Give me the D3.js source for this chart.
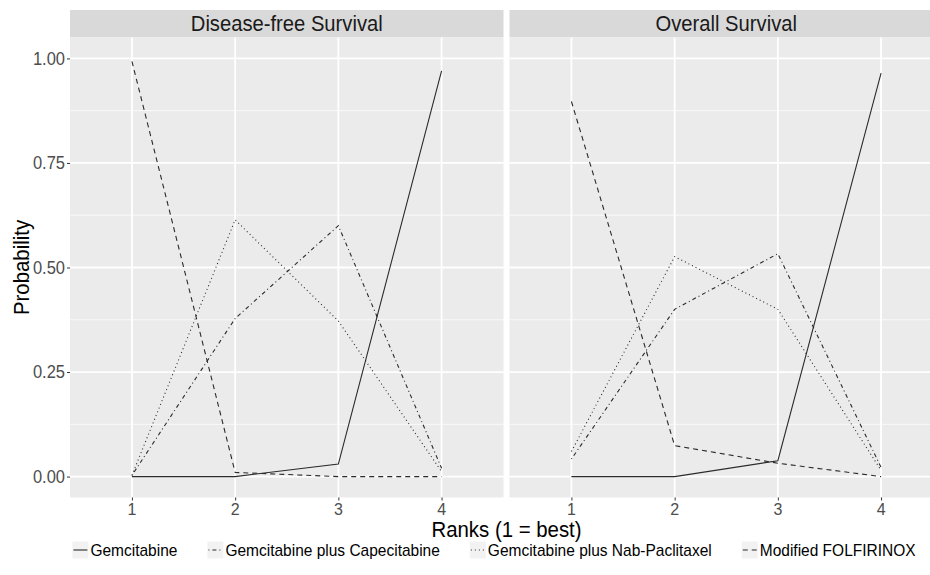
<!DOCTYPE html>
<html>
<head>
<meta charset="utf-8">
<script src="https://cdn.jsdelivr.net/npm/d3@7/dist/d3.min.js"></script>
<style>
  html, body { margin: 0; padding: 0; background: #fff; overflow: hidden; }
  svg { display: block; font-family: "Liberation Sans", Arial, sans-serif; }
</style>
</head>
<body>
<svg id="chart" width="930" height="575"></svg>
<script>
// ---- data ----
const ranks = ["1", "2", "3", "4"];
const panels = ["Disease-free Survival", "Overall Survival"];
const treatments = ["Gemcitabine", "Gemcitabine plus Capecitabine", "Gemcitabine plus Nab-Paclitaxel", "Modified FOLFIRINOX"];
const yTicks = [0, 0.25, 0.5, 0.75, 1.0];
const yMinor = [0.125, 0.375, 0.625, 0.875];

const dfsGemcitabine   = [0.000, 0.000, 0.030, 0.970];
const dfsCapecitabine  = [0.003, 0.378, 0.600, 0.020];
const dfsNabPaclitaxel = [0.003, 0.614, 0.372, 0.012];
const dfsFolfirinox    = [0.993, 0.010, 0.000, 0.000];

const osGemcitabine    = [0.000, 0.000, 0.038, 0.965];
const osCapecitabine   = [0.042, 0.400, 0.533, 0.022];
const osNabPaclitaxel  = [0.060, 0.526, 0.400, 0.015];
const osFolfirinox     = [0.897, 0.074, 0.032, 0.000];

const panelSeries = [
  [dfsGemcitabine, dfsCapecitabine, dfsNabPaclitaxel, dfsFolfirinox],
  [osGemcitabine, osCapecitabine, osNabPaclitaxel, osFolfirinox]
];

// ---- styles ----
const dashes = [null, "1,3,4,3", "1,3", "5,4"];
const lineColor = "#2b2b2b";
const stretch = 1.08;

const svg = d3.select("#chart");
const panelTop = 37.5, panelBottom = 497.5;
const stripTop = 10, stripBottom = 37.5;
const panelX = [[70, 503.5], [509.5, 943]];

// text helper with slight vertical stretch
function label(parent, x, yPos, txt, size, anchor, fill, rotate) {
  const g = parent.append("g")
    .attr("transform", `translate(${x},${yPos})` + (rotate ? ` rotate(${rotate})` : "") + ` scale(1,${stretch})`);
  return g.append("text").attr("x", 0).attr("y", 0).attr("dy", "0.35em")
    .attr("text-anchor", anchor).attr("font-size", size).attr("fill", fill).text(txt);
}

const y = d3.scaleLinear().domain([-0.05, 1.05]).range([panelBottom, panelTop]);

panels.forEach((title, pi) => {
  const [x0, x1] = panelX[pi];
  const x = d3.scalePoint().domain(ranks).range([x0, x1]).padding(0.6);
  const g = svg.append("g");

  // strip
  g.append("rect").attr("x", x0).attr("y", stripTop).attr("width", x1 - x0).attr("height", stripBottom - stripTop)
    .attr("fill", "#d9d9d9");
  label(g, (x0 + x1) / 2, (stripTop + stripBottom) / 2, title, 20.2, "middle", "#1a1a1a");

  // panel background
  g.append("rect").attr("x", x0).attr("y", panelTop).attr("width", x1 - x0).attr("height", panelBottom - panelTop)
    .attr("fill", "#ebebeb");

  // grid
  g.selectAll(".minor").data(yMinor).enter().append("line")
    .attr("x1", x0).attr("x2", x1).attr("y1", d => y(d)).attr("y2", d => y(d))
    .attr("stroke", "#fff").attr("stroke-width", 0.9).attr("opacity", 0.8);
  g.selectAll(".major").data(yTicks).enter().append("line")
    .attr("x1", x0).attr("x2", x1).attr("y1", d => y(d)).attr("y2", d => y(d))
    .attr("stroke", "#fff").attr("stroke-width", 1.8);
  g.selectAll(".vmajor").data(ranks).enter().append("line")
    .attr("x1", d => x(d)).attr("x2", d => x(d)).attr("y1", panelTop).attr("y2", panelBottom)
    .attr("stroke", "#fff").attr("stroke-width", 1.8);

  // lines
  const line = d3.line().x((d, i) => x(ranks[i])).y(d => y(d));
  panelSeries[pi].forEach((vals, si) => {
    const p = g.append("path").datum(vals).attr("d", line).attr("fill", "none")
      .attr("stroke", lineColor).attr("stroke-width", 1.1);
    if (dashes[si]) p.attr("stroke-dasharray", dashes[si]);
  });

  // x axis (ticks from the scale, labels stretched)
  const xAxis = d3.axisBottom(x).tickSize(3).tickFormat("");
  const ax = g.append("g").attr("transform", `translate(0,${panelBottom})`).call(xAxis);
  ax.select(".domain").remove();
  ax.selectAll("line").attr("stroke", "#333");
  ranks.forEach(r => label(g, x(r), panelBottom + 11, r, 16, "middle", "#4d4d4d"));

  if (pi === 0) {
    const yAxis = d3.axisLeft(y).tickValues(yTicks).tickSize(3).tickFormat("");
    const ay = g.append("g").attr("transform", `translate(${x0},0)`).call(yAxis);
    ay.select(".domain").remove();
    ay.selectAll("line").attr("stroke", "#333");
    const fmt = d3.format(".2f");
    yTicks.forEach(t => label(g, x0 - 5, y(t), fmt(t), 16.5, "end", "#4d4d4d"));
  }
});

// axis titles
label(svg, (panelX[0][0] + panelX[1][1]) / 2, 529.5, "Ranks (1 = best)", 20.4, "middle", "#000");
label(svg, 21, (panelTop + panelBottom) / 2, "Probability", 20.4, "middle", "#000", -90);

// legend
const legY = 550;
const leg = svg.append("g");
const keyW = 16, keyH = 17, gapText = 2, itemGap = 30;
const items = treatments.map((t, i) => {
  const gi = leg.append("g");
  gi.append("rect").attr("x", 0).attr("y", legY - keyH / 2).attr("width", keyW).attr("height", keyH).attr("fill", "#f2f2f2");
  const l = gi.append("line").attr("x1", 1).attr("x2", keyW - 1).attr("y1", legY).attr("y2", legY)
    .attr("stroke", lineColor).attr("stroke-width", 1.1);
  if (dashes[i]) l.attr("stroke-dasharray", dashes[i]);
  const tx = label(gi, keyW + gapText, legY, t, 15.5, "start", "#000");
  return { g: gi, w: keyW + gapText + tx.node().getComputedTextLength() };
});
const total = d3.sum(items, d => d.w) + itemGap * (items.length - 1);
let cx = 494 - total / 2;
items.forEach(it => { it.g.attr("transform", `translate(${cx},0)`); cx += it.w + itemGap; });
</script>
</body>
</html>
